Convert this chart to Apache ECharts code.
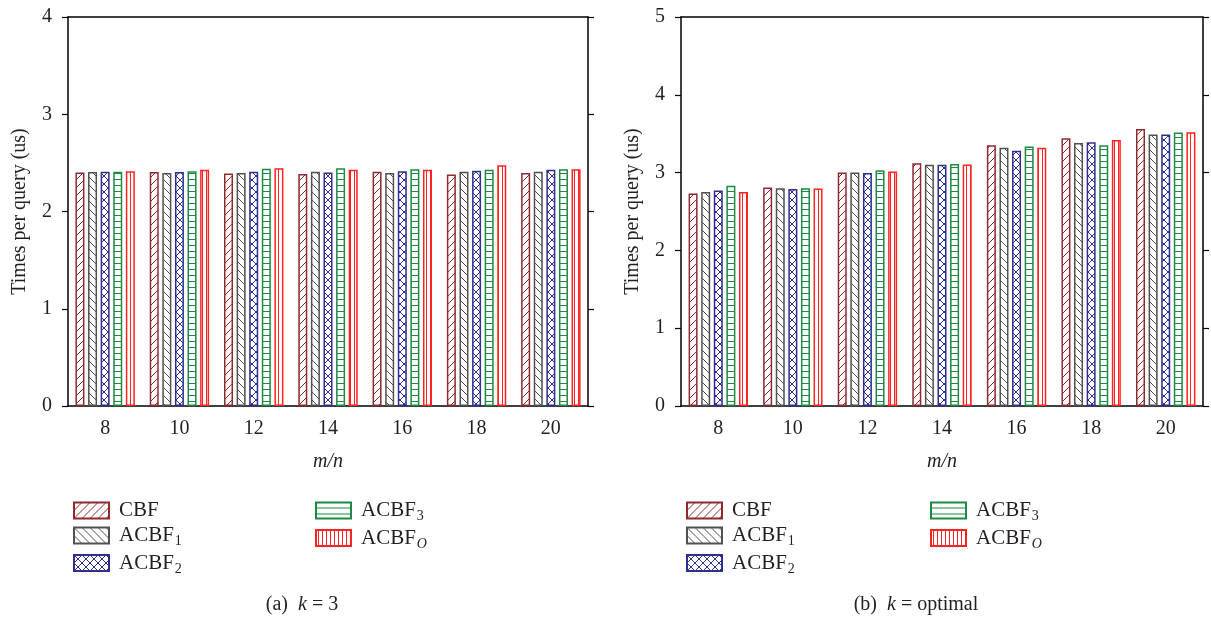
<!DOCTYPE html>
<html lang="en">
<head>
    <meta charset="UTF-8">
    <title>Times per query</title>
    <script src="https://cdn.jsdelivr.net/npm/echarts@6/dist/echarts.min.js"></script>
    <style>
        html,body{margin:0;padding:0;background:#fff}
        #main{width:1211px;height:620px}
    </style>
</head>
<body>
<div id="main"></div>
<script>
    // data
    var categories = ['8', '10', '12', '14', '16', '18', '20'];
    var seriesNames = ['CBF', 'ACBF1', 'ACBF2', 'ACBF3', 'ACBFO'];

    // (a) k = 3
    var k3CBF   = [2.40, 2.405, 2.39, 2.385, 2.41, 2.38, 2.395];
    var k3ACBF1 = [2.405, 2.395, 2.395, 2.41, 2.395, 2.41, 2.41];
    var k3ACBF2 = [2.41, 2.405, 2.41, 2.40, 2.415, 2.42, 2.43];
    var k3ACBF3 = [2.41, 2.415, 2.44, 2.445, 2.435, 2.43, 2.435];
    var k3ACBFO = [2.415, 2.43, 2.445, 2.43, 2.43, 2.475, 2.435];

    // (b) k = optimal
    var koCBF   = [2.73, 2.81, 3.00, 3.12, 3.35, 3.44, 3.56];
    var koACBF1 = [2.75, 2.80, 3.00, 3.10, 3.32, 3.38, 3.49];
    var koACBF2 = [2.77, 2.79, 2.995, 3.10, 3.28, 3.39, 3.49];
    var koACBF3 = [2.83, 2.80, 3.03, 3.11, 3.335, 3.35, 3.515];
    var koACBFO = [2.75, 2.795, 3.015, 3.105, 3.32, 3.42, 3.52];

    var colors = ['#8e2a2e', '#505050', '#2e3090', '#1c8a40', '#ff2222'];
    var kinds = ['slash', 'back', 'cross', 'hline', 'vline'];
    var FONT = 'Liberation Serif';
    var TXT = '#231f20';

    // hatch fills drawn on a small canvas
    function makePattern(kind, color) {
        var c = document.createElement('canvas');
        var w = 8, h = 8;
        if (kind == 'hline') { w = 8; h = 6; }
        if (kind == 'vline') { w = 4; h = 4; }
        c.width = w; c.height = h;
        var g = c.getContext('2d');
        g.fillStyle = '#fff';
        g.fillRect(0, 0, w, h);
        g.strokeStyle = color;
        g.fillStyle = color;
        g.lineWidth = 1;
        g.beginPath();
        if (kind == 'slash' || kind == 'cross') {
            g.moveTo(0, 8); g.lineTo(8, 0);
            g.moveTo(-4, 4); g.lineTo(4, -4);
            g.moveTo(4, 12); g.lineTo(12, 4);
        }
        if (kind == 'back' || kind == 'cross') {
            g.moveTo(0, 0); g.lineTo(8, 8);
            g.moveTo(-4, 4); g.lineTo(4, 12);
            g.moveTo(4, -4); g.lineTo(12, 4);
        }
        if (kind == 'hline') {
            g.moveTo(0, 5.5); g.lineTo(8, 5.5);
        }
        if (kind == 'vline') {
            g.moveTo(2.5, 0); g.lineTo(2.5, 4);
        }
        g.stroke();
        if (kind == 'cross') {
            g.fillRect(3, 3, 2, 2);
            g.fillRect(-1, -1, 2, 2);
            g.fillRect(7, -1, 2, 2);
            g.fillRect(-1, 7, 2, 2);
            g.fillRect(7, 7, 2, 2);
        }
        return {image: c, repeat: 'repeat'};
    }

    var legendText = {
        'CBF': '{b|CBF}',
        'ACBF1': '{b|ACBF}{s|1}',
        'ACBF2': '{b|ACBF}{s|2}',
        'ACBF3': '{b|ACBF}{s|3}',
        'ACBFO': '{b|ACBF}{si|O}'
    };
    var rich = {
        b: {fontFamily: FONT, fontSize: 21, color: TXT, lineHeight: 26, verticalAlign: 'middle'},
        s: {fontFamily: FONT, fontSize: 14, color: TXT, lineHeight: 14, verticalAlign: 'bottom', padding: [0, 0, 0, 1]},
        si: {fontFamily: FONT, fontSize: 14, fontStyle: 'italic', color: TXT, lineHeight: 14, verticalAlign: 'bottom', padding: [0, 0, 0, 1]}
    };

    function legendAt(left, names) {
        return {
            orient: 'vertical', left: left, top: 495,
            icon: 'rect',
            itemWidth: 35, itemHeight: 16, itemGap: 4,
            data: names,
            formatter: function (n) { return legendText[n]; },
            textStyle: {rich: rich, padding: [0, 0, 0, 5]},
            selectedMode: false
        };
    }

    var axisLineStyle = {show: true, onZero: false, lineStyle: {color: '#000', width: 1.5}};
    var tickStyle = {length: 6, lineStyle: {color: '#000', width: 1.2}};
    var labelStyle = {fontFamily: FONT, fontSize: 20, color: TXT};

    function xAxes(grid) {
        return [{
            type: 'category', gridIndex: grid, data: categories, position: 'bottom',
            axisLine: axisLineStyle,
            axisTick: Object.assign({alignWithLabel: true}, tickStyle),
            axisLabel: Object.assign({margin: 13}, labelStyle),
            name: 'm/n', nameLocation: 'middle', nameGap: 46,
            nameTextStyle: {fontFamily: FONT, fontSize: 20, fontStyle: 'italic', color: TXT}
        }, {
            type: 'category', gridIndex: grid, data: categories, position: 'top',
            axisLine: axisLineStyle,
            axisTick: Object.assign({alignWithLabel: true}, tickStyle),
            axisLabel: {show: false}
        }];
    }
    function yAxes(grid, max) {
        return [{
            type: 'value', gridIndex: grid, min: 0, max: max, interval: 1, position: 'left',
            axisLine: axisLineStyle,
            axisTick: Object.assign({show: true}, tickStyle),
            splitLine: {show: false},
            axisLabel: Object.assign({margin: 16}, labelStyle),
            name: 'Times per query (us)', nameLocation: 'middle', nameGap: 38,
            nameTextStyle: {fontFamily: FONT, fontSize: 20, color: TXT}
        }, {
            type: 'value', gridIndex: grid, min: 0, max: max, interval: 1, position: 'right',
            axisLine: axisLineStyle,
            axisTick: Object.assign({show: true}, tickStyle),
            splitLine: {show: false},
            axisLabel: {show: false}
        }];
    }

    var leftData = [k3CBF, k3ACBF1, k3ACBF2, k3ACBF3, k3ACBFO];
    var rightData = [koCBF, koACBF1, koACBF2, koACBF3, koACBFO];
    var series = [];
    function addSeries(dataList, axisIdx) {
        for (var i = 0; i < seriesNames.length; i++) {
            series.push({
                type: 'bar', name: seriesNames[i],
                xAxisIndex: axisIdx, yAxisIndex: axisIdx,
                data: dataList[i],
                barWidth: 9, barGap: '40%',
                itemStyle: {color: makePattern(kinds[i], colors[i]), borderColor: colors[i], borderWidth: 1.5},
                emphasis: {disabled: true}
            });
        }
    }
    addSeries(leftData, 0);
    addSeries(rightData, 2);

    var captionRich = {
        n: {fontFamily: FONT, fontSize: 20, fill: TXT},
        i: {fontFamily: FONT, fontSize: 20, fontStyle: 'italic', fill: TXT}
    };

    var chart = echarts.init(document.getElementById('main'));
    chart.setOption({
        animation: false,
        color: colors,
        grid: [
            {left: 68, top: 17, width: 520, height: 389},
            {left: 681, top: 17, width: 522, height: 389}
        ],
        xAxis: xAxes(0).concat(xAxes(1)),
        yAxis: yAxes(0, 4).concat(yAxes(1, 5)),
        legend: [
            legendAt(68, ['CBF', 'ACBF1', 'ACBF2']),
            legendAt(310, ['ACBF3', 'ACBFO']),
            legendAt(681, ['CBF', 'ACBF1', 'ACBF2']),
            legendAt(925, ['ACBF3', 'ACBFO'])
        ],
        graphic: [{
            type: 'text', x: 302, y: 605,
            style: {text: '{n|(a)  }{i|k}{n| = 3}', rich: captionRich, align: 'center', verticalAlign: 'middle'}
        }, {
            type: 'text', x: 916, y: 605,
            style: {text: '{n|(b)  }{i|k}{n| = optimal}', rich: captionRich, align: 'center', verticalAlign: 'middle'}
        }],
        series: series
    });
</script>
</body>
</html>
